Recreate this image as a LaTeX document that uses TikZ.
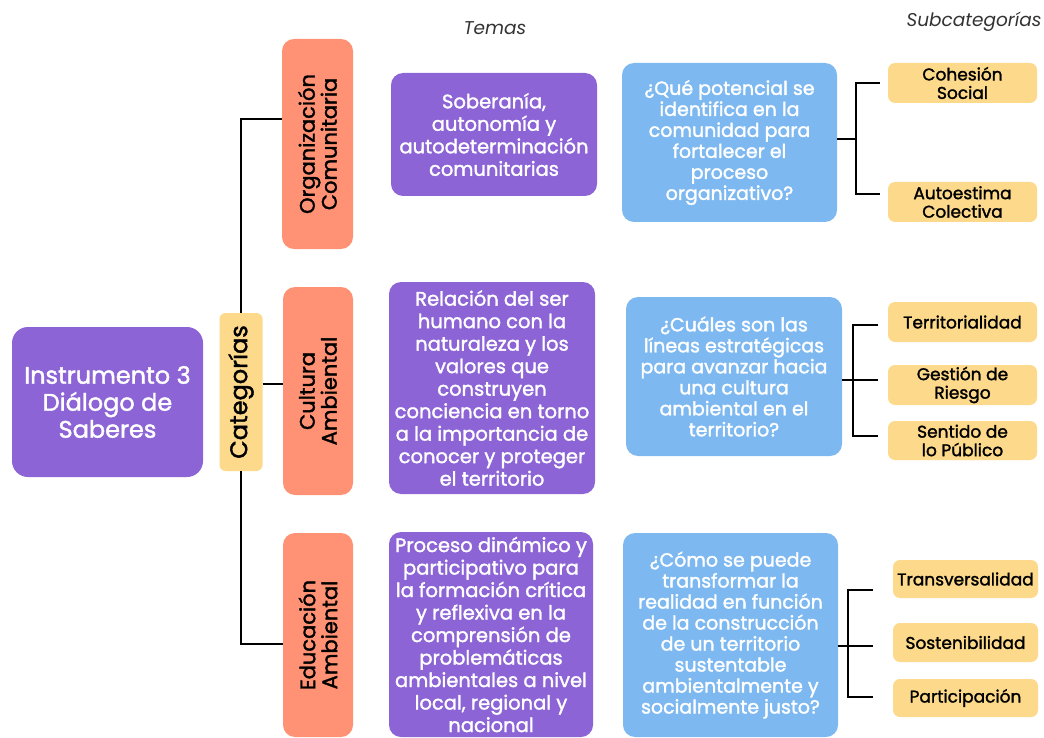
\documentclass[tikz,border=0pt]{standalone}
\usepackage{fontspec}
\setmainfont{Poppins}[BoldFont=Poppins, BoldFeatures={FakeBold=1.6}]
\newfontfamily\hdrfont{Poppins}
\usetikzlibrary{calc}
\definecolor{cpurple}{HTML}{8C64D6}
\definecolor{corange}{HTML}{FF9274}
\definecolor{cblue}{HTML}{7DB9F0}
\definecolor{cyellow}{HTML}{FCD98B}
\definecolor{cgrey}{HTML}{333333}
\tikzset{
  box/.style={rounded corners=12pt, inner sep=0pt, align=center},
  mainbox/.style={box, fill=cpurple, text=white, rounded corners=16pt, font=\bfseries\fontsize{24}{27}\selectfont},
  catbox/.style={box, fill=cyellow, rounded corners=6pt, rotate=90, font=\bfseries\fontsize{24}{26}\selectfont},
  orgbox/.style={box, fill=corange, rotate=90, font=\bfseries\fontsize{21}{22}\selectfont},
  temabox/.style={box, fill=cpurple, text=white, font=\bfseries\fontsize{19.5}{22.5}\selectfont},
  qbox/.style={box, fill=cblue, text=white, font=\bfseries\fontsize{19}{21}\selectfont},
  subbox/.style={box, fill=cyellow, rounded corners=7pt, font=\bfseries\fontsize{17}{18.5}\selectfont},
  header/.style={text=cgrey, font=\hdrfont\itshape\fontsize{18.5}{20}\selectfont},
  conn/.style={draw=black, line width=1.8pt}
}
\begin{document}
\begin{tikzpicture}[x=1pt,y=-1pt]
\useasboundingbox (0,0) rectangle (1044,738);
% headers
\node[header] (hT) at (495,28) {Temas};
\node[header] (hS) at (974,22) {Subcategorías};
% main
\node[mainbox, minimum width=191pt, minimum height=150pt] (main) at (107.5,402) {Instrumento 3\\Diálogo de\\Saberes};
% categorias
\node[catbox, minimum width=158pt, minimum height=43pt] (cat) at (241,392) {Categorías};
% category boxes
\node[orgbox, minimum width=210pt, minimum height=71pt] (org) at (317.5,144) {Organización\\Comunitaria};
\node[orgbox, minimum width=208pt, minimum height=70pt] (cul) at (318,391) {Cultura\\Ambiental};
\node[orgbox, minimum width=204pt, minimum height=70pt] (edu) at (318,635) {Educación\\Ambiental};
% temas
\node[temabox, minimum width=206pt, minimum height=123pt] (t1) at (494,134.5) {Soberanía,\\autonomía y\\autodeterminación\\comunitarias};
\node[temabox, minimum width=206pt, minimum height=212pt] (t2) at (492,388) {Relación del ser\\humano con la\\naturaleza y los\\valores que\\construyen\\conciencia en torno\\a la importancia de\\conocer y proteger\\el territorio};
\node[temabox, minimum width=204pt, minimum height=205pt] (t3) at (491,634.5) {Proceso dinámico y\\participativo para\\la formación crítica\\y reflexiva en la\\comprensión de\\problemáticas\\ambientales a nivel\\local, regional y\\nacional};
% preguntas
\node[qbox, minimum width=215pt, minimum height=159pt] (q1) at (729.5,142.5) {¿Qué potencial se\\identifica en la\\comunidad para\\fortalecer el\\proceso\\organizativo?};
\node[qbox, minimum width=216pt, minimum height=159pt] (q2) at (734,376.5) {¿Cuáles son las\\líneas estratégicas\\para avanzar hacia\\una cultura\\ambiental en el\\territorio?};
\node[qbox, minimum width=215pt, minimum height=204pt] (q3) at (730.5,635) {¿Cómo se puede\\transformar la\\realidad en función\\de la construcción\\de un territorio\\sustentable\\ambientalmente y\\socialmente justo?};
% subcategorias
\node[subbox, minimum width=149pt, minimum height=40pt] (s11) at (962.5,83) {Cohesión\\Social};
\node[subbox, minimum width=149pt, minimum height=40pt] (s12) at (962.5,202) {Autoestima\\Colectiva};
\node[subbox, minimum width=149pt, minimum height=40pt] (s21) at (962.5,322) {Territorialidad};
\node[subbox, minimum width=149pt, minimum height=40pt] (s22) at (962.5,385) {Gestión de\\Riesgo};
\node[subbox, minimum width=149pt, minimum height=39pt] (s23) at (962.5,440.5) {Sentido de\\lo Público};
\node[subbox, minimum width=145pt, minimum height=38pt] (s31) at (965.5,579) {Transversalidad};
\node[subbox, minimum width=145pt, minimum height=39pt] (s32) at (965.5,642.5) {Sostenibilidad};
\node[subbox, minimum width=145pt, minimum height=38pt] (s33) at (965.5,698) {Participación};
% connectors: categorias
\coordinate (k1) at (241,119);
\coordinate (k3) at (241,644);
\draw[conn] (cat.east) -- (k1) -- (k1 -| org.north);
\draw[conn] (cat.west) -- (k3) -- (k3 -| edu.north);
\draw[conn] ([yshift=8pt]cat.south) -- ([yshift=8pt]cat.south -| cul.north);
% connectors: group 1
\coordinate (b1) at (856,139);
\coordinate (e11) at (880,83);
\coordinate (e12) at (880,194);
\draw[conn] (q1.east |- b1) -- (b1);
\draw[conn] (e11) -| (b1) |- (e12);
% group 2
\coordinate (b2) at (853,380);
\coordinate (e21) at (878,325);
\coordinate (e22) at (878,380);
\coordinate (e23) at (878,436);
\draw[conn] (q2.east |- b2) -- (e22);
\draw[conn] (e21) -| (b2) |- (e23);
% group 3
\coordinate (b3) at (848,646);
\coordinate (e31) at (873,590);
\coordinate (e32) at (873,646);
\coordinate (e33) at (873,697);
\draw[conn] (q3.east |- b3) -- (e32);
\draw[conn] (e31) -| (b3) |- (e33);
\end{tikzpicture}
\end{document}
